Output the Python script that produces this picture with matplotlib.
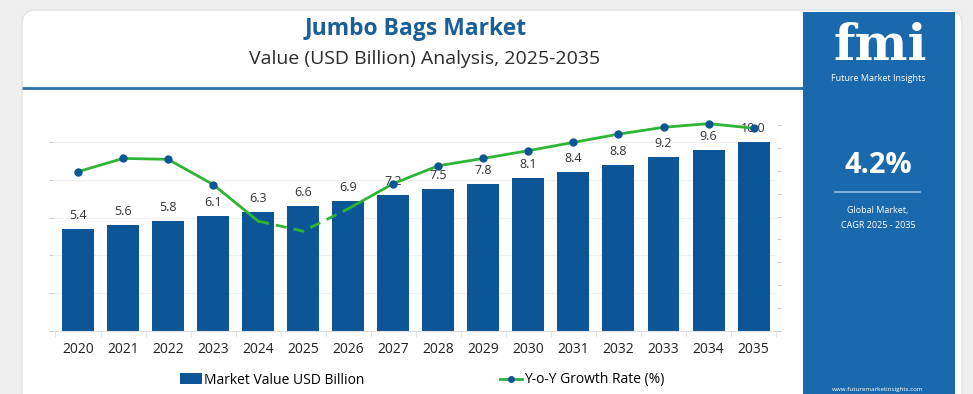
import numpy as np
import matplotlib.pyplot as plt
from matplotlib.patches import FancyBboxPatch, Rectangle
from matplotlib.lines import Line2D

plt.rcParams['font.family'] = ['Open Sans', 'DejaVu Sans']

# data
years = ['2020', '2021', '2022', '2023', '2024', '2025', '2026', '2027',
         '2028', '2029', '2030', '2031', '2032', '2033', '2034', '2035']
market_value = [5.4, 5.6, 5.8, 6.1, 6.3, 6.6, 6.9, 7.2,
                7.5, 7.8, 8.1, 8.4, 8.8, 9.2, 9.6, 10.0]
yoy_growth = [3.48, 3.77, 3.75, 3.2, 2.4, 2.18, 2.67, 3.22,
              3.61, 3.77, 3.94, 4.12, 4.3, 4.45, 4.53, 4.43]

W, H = 973, 394
bar_col = '#0c5697'
green = '#2fb534'
panel_col = '#1a69ad'

fig = plt.figure(figsize=(W / 100, H / 100), dpi=100, facecolor='#efefef')

# background card + side panel, drawn in pixel coords
bg = fig.add_axes([0, 0, 1, 1], zorder=0)
bg.set_xlim(0, W)
bg.set_ylim(H, 0)
bg.axis('off')
bg.add_patch(FancyBboxPatch((22, 10), 940, 400, boxstyle='round,pad=0,rounding_size=14',
                            facecolor='white', edgecolor='#e2e2e2', lw=1))
bg.add_patch(Rectangle((803, 12), 152, 390, facecolor=panel_col, edgecolor='none'))
bg.plot([22, 803], [88, 88], color='#2a6fa8', lw=2, solid_capstyle='butt')

bg.text(416, 29, 'Jumbo Bags Market', ha='center', va='center',
        fontsize=16.5, fontweight='bold', color='#1b5f99')
bg.text(425, 59, 'Value (USD Billion) Analysis, 2025-2035', ha='center', va='center',
        fontsize=14, color='#2b2b2b')

# panel text
bg.text(880, 46, 'fmi', ha='center', va='center', fontsize=36, fontweight='bold',
        color='white', family=['DejaVu Serif'])
bg.text(878, 78, 'Future Market Insights', ha='center', va='center', fontsize=6.5, color='white')
bg.text(878, 165, '4.2%', ha='center', va='center', fontsize=21, fontweight='bold', color='white')
bg.plot([835, 920], [192, 192], color='#8fc0e8', lw=1.2)
bg.text(878, 210, 'Global Market,', ha='center', va='center', fontsize=6.5, color='white')
bg.text(878, 225, 'CAGR 2025 - 2035', ha='center', va='center', fontsize=6.5, color='white')
bg.text(878, 390, 'www.futuremarketinsights.com', ha='center', va='center', fontsize=4.5, color='white')

# main chart
x0, x1, ytop, ybot = 53, 777, 125, 331
ax = fig.add_axes([x0 / W, (H - ybot) / H, (x1 - x0) / W, (ybot - ytop) / H], zorder=2)
ax.patch.set_alpha(0)
x = np.arange(len(years))
ax.bar(x, market_value, width=0.71, color=bar_col, zorder=2)
for xi, v in zip(x, market_value):
    ax.annotate(f'{v:.1f}', (xi, v), xytext=(0, 5), textcoords='offset points',
                ha='center', va='bottom', fontsize=9, color='#333333', zorder=5)
ax.set_xlim(-0.555, 15.52)
ax.set_ylim(0, (ybot - ytop) / 18.9)
ax.set_yticks([0, 2, 4, 6, 8, 10])
ax.yaxis.grid(True, color='#f0f0f0', lw=0.8, zorder=0)
ax.set_axisbelow(True)
ax.tick_params(axis='y', length=3, color='#cccccc', labelleft=False)
ax.set_xticks(x)
ax.set_xticklabels(years, fontsize=10, color='#222222')
ax.tick_params(axis='x', length=0, pad=8)
ax.set_xticks(np.arange(-0.5, 16, 1), minor=True)
ax.tick_params(axis='x', which='minor', length=4, color='#dddddd')
for s in ['top', 'right', 'left']:
    ax.spines[s].set_visible(False)
ax.spines['bottom'].set_color('#dddddd')

ax2 = ax.twinx()
ax2.set_ylim(0, 4.5)
ax2.set_yticks(np.arange(0, 4.51, 0.5))
ax2.tick_params(axis='y', length=3, color='#cccccc', labelright=False)
for s in ['top', 'right', 'left', 'bottom']:
    ax2.spines[s].set_visible(False)
# solid parts with markers, dashed dip between 2024 and 2026
ax2.plot(x[:5], yoy_growth[:5], color=green, lw=2, marker='o', ms=5,
         mfc=bar_col, mec=bar_col, markevery=[0, 1, 2, 3], zorder=4, clip_on=False)
ax2.plot(x[4:7], yoy_growth[4:7], color=green, lw=2, ls=(0, (4, 2.5)), zorder=4)
ax2.plot(x[6:], yoy_growth[6:], color=green, lw=2, marker='o', ms=5,
         mfc=bar_col, mec=bar_col, markevery=list(range(1, 10)), zorder=4, clip_on=False)

# legend
h1 = Rectangle((0, 0), 1, 1, facecolor=bar_col)
h2 = Line2D([], [], color=green, lw=2, marker='o', ms=4, mfc=bar_col, mec=bar_col)
fig.legend([h1], ['Market Value USD Billion'], loc='center', bbox_to_anchor=(272 / W, 1 - 380 / H),
           frameon=False, fontsize=10, handlelength=1.6, handleheight=0.8, handletextpad=0.1)
fig.legend([h2], ['Y-o-Y Growth Rate (%)'], loc='center', bbox_to_anchor=(582 / W, 1 - 380 / H),
           frameon=False, fontsize=10, handlelength=1.6, handletextpad=0.1)

fig.savefig('out.png', dpi=100, facecolor=fig.get_facecolor())
